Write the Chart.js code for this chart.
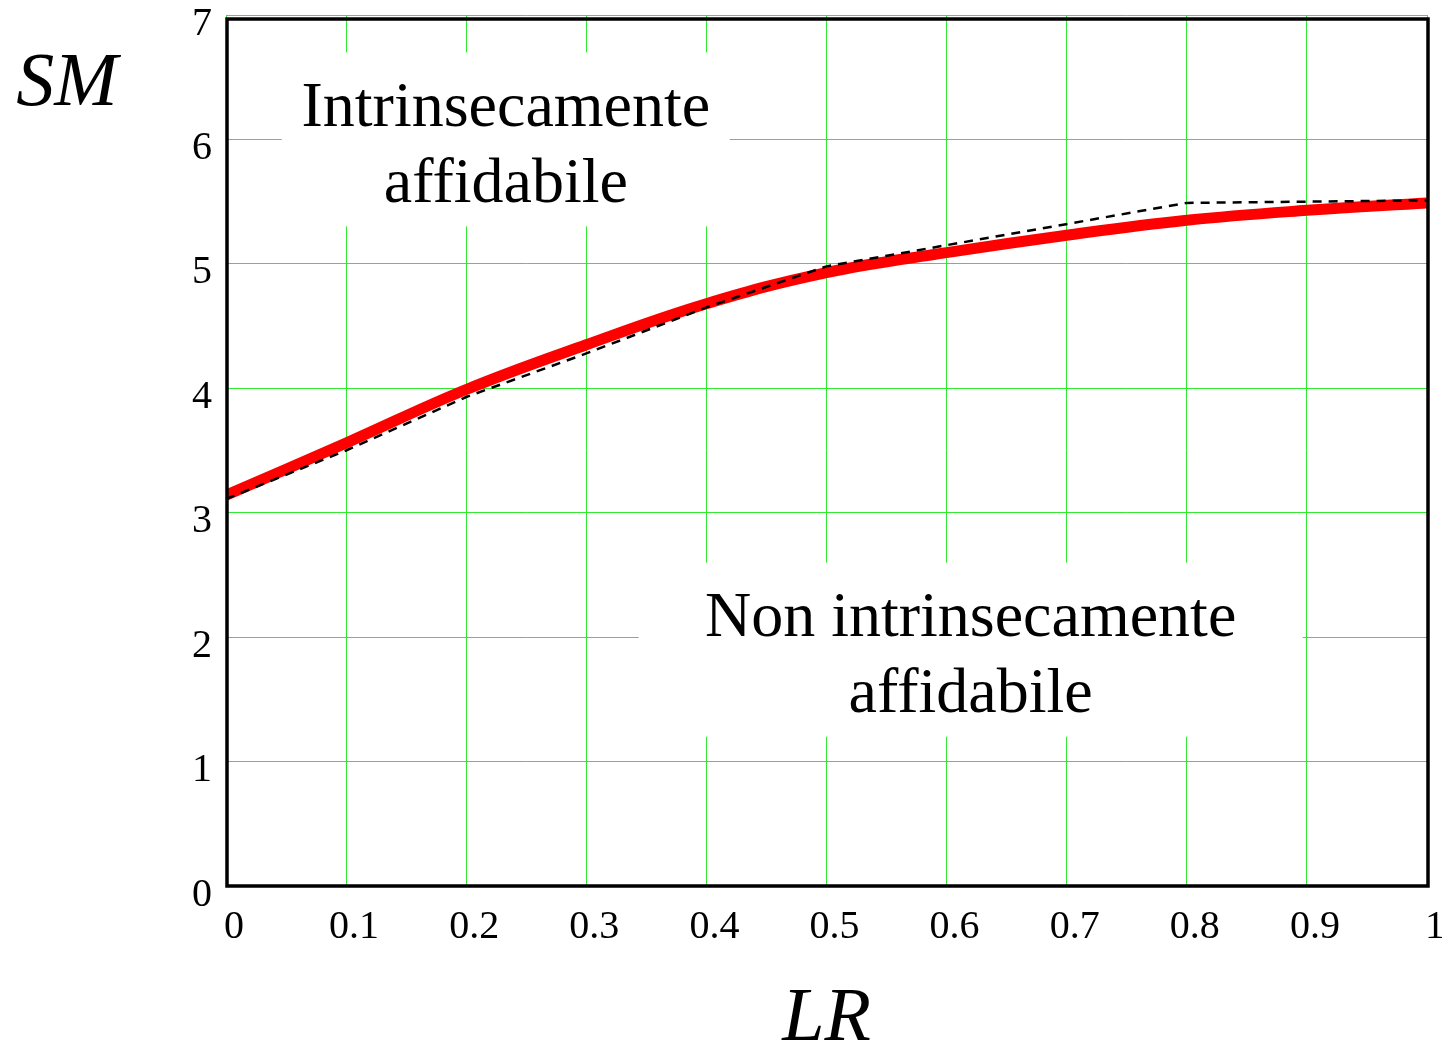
<!DOCTYPE html>
<html>
<head>
<meta charset="utf-8">
<script src="https://cdn.jsdelivr.net/npm/chart.js@4.4.6/dist/chart.umd.min.js"></script>
<style>
  html, body { margin: 0; padding: 0; background: #fff; }
  #wrap { width: 1442px; height: 1045px; position: relative; }
</style>
</head>
<body>
<div id="wrap"><canvas id="c" width="1442" height="1045"></canvas></div>
<script>
// values
const lrValues   = [0, 0.1, 0.2, 0.3, 0.4, 0.5, 0.6, 0.7, 0.8, 0.9, 1.0];
const smCurve    = [3.14, 3.56, 3.99, 4.35, 4.68, 4.93, 5.09, 5.23, 5.35, 5.43, 5.49];
const lrDashed   = [0, 0.1, 0.2, 0.3, 0.4, 0.5, 0.8, 1.0, 1.008];
const smDashed   = [3.11, 3.50, 3.93, 4.28, 4.65, 4.98, 5.49, 5.51, 5.51];
const xTicks     = ['0', '0.1', '0.2', '0.3', '0.4', '0.5', '0.6', '0.7', '0.8', '0.9', '1'];
const yTicks     = ['0', '1', '2', '3', '4', '5', '6', '7'];
const regionLabels = [
  { lines: ['Intrinsecamente', 'affidabile'], x: 0.233, y: 6.0, w: 448, h: 174 },
  { lines: ['Non intrinsecamente', 'affidabile'], x: 0.62, y: 1.9, w: 664, h: 174 }
];

const SERIF = '"Liberation Serif", "DejaVu Serif", serif';
const GRID = '#33e833';

const toPts = (xs, ys) => xs.map((x, i) => ({ x, y: ys[i] }));

// white boxes with the region text, drawn over the grid but under the curves
const regionPlugin = {
  id: 'regions',
  beforeDatasetsDraw(chart){
    const { ctx, scales: { x, y } } = chart;
    ctx.save();
    regionLabels.forEach(r => {
      const cx = x.getPixelForValue(r.x), cy = y.getPixelForValue(r.y);
      ctx.fillStyle = '#fff';
      ctx.fillRect(cx - r.w/2, cy - r.h/2, r.w, r.h);
      ctx.fillStyle = '#000';
      ctx.font = '64px ' + SERIF;
      ctx.textAlign = 'center';
      ctx.textBaseline = 'middle';
      ctx.fillText(r.lines[0], cx, cy - 30);
      ctx.fillText(r.lines[1], cx, cy + 46);
    });
    ctx.restore();
  },
  afterDraw(chart){
    const { ctx, chartArea: a } = chart;
    ctx.save();
    // frame
    ctx.strokeStyle = '#000';
    ctx.lineWidth = 3.5;
    ctx.strokeRect(a.left + 1, a.top + 4, a.right - a.left, a.bottom - a.top - 4);
    // axis titles
    ctx.fillStyle = '#000';
    ctx.font = 'italic 76px ' + SERIF;
    ctx.textAlign = 'center';
    ctx.textBaseline = 'alphabetic';
    ctx.fillText('SM', 67, 105);
    ctx.fillText('LR', (a.left + a.right) / 2, 1040);
    ctx.restore();
  }
};

new Chart(document.getElementById('c'), {
  type: 'line',
  data: {
    datasets: [
      {
        data: toPts(lrDashed, smDashed),
        borderColor: '#000',
        borderWidth: 2.5,
        borderDash: [9, 7],
        pointRadius: 0,
        tension: 0,
        clip: false,
        order: 0
      },
      {
        data: toPts(lrValues, smCurve),
        borderColor: '#ff0000',
        borderWidth: 11,
        pointRadius: 0,
        tension: 0.4,
        order: 1
      }
    ]
  },
  options: {
    responsive: false,
    animation: false,
    events: [],
    layout: { padding: { top: 15, right: 15, left: 0, bottom: 0 } },
    plugins: { legend: { display: false }, tooltip: { enabled: false } },
    scales: {
      x: {
        type: 'linear',
        min: 0, max: 1,
        border: { display: false },
        grid: { color: GRID, lineWidth: 1, drawTicks: false },
        afterBuildTicks(s){ s.ticks = lrValues.map(v => ({ value: v })); },
        afterFit(s){ s.height = 159; s.paddingLeft = 0; s.paddingRight = 0; },
        ticks: {
          padding: 17,
          labelOffset: 8,
          color: '#000',
          font: { family: SERIF, size: 40 },
          callback: (v, i) => xTicks[i]
        }
      },
      y: {
        type: 'linear',
        min: 0, max: 7,
        border: { display: false },
        grid: { color: GRID, lineWidth: 1, drawTicks: false },
        afterBuildTicks(s){ s.ticks = yTicks.map(v => ({ value: +v })); },
        afterFit(s){ s.width = 226; s.paddingTop = 0; s.paddingBottom = 0; },
        ticks: {
          padding: 14,
          labelOffset: 9,
          color: '#000',
          font: { family: SERIF, size: 40 },
          callback: (v, i) => yTicks[i]
        }
      }
    }
  },
  plugins: [regionPlugin]
});
</script>
</body>
</html>
